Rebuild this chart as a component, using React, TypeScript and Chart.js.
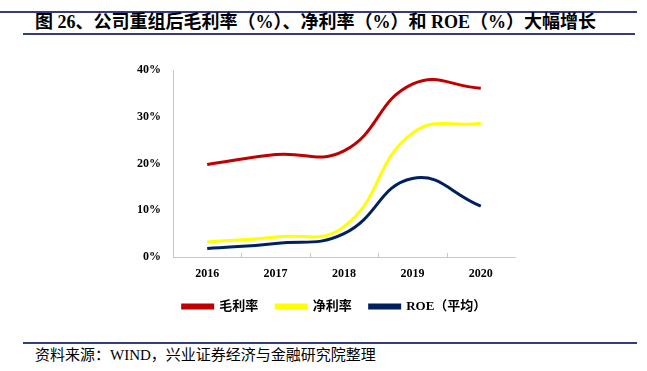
import React, { useEffect, useRef } from "react";
import { Chart, registerables } from "chart.js";

Chart.register(...registerables);

const categories = ["2016", "2017", "2018", "2019", "2020"];
const grossMargin = [19.8, 21.9, 22.7, 37.0, 36.1];
const netMargin = [3.2, 4.3, 6.5, 26.5, 28.6];
const roeAvg = [1.8, 2.9, 5.0, 16.8, 10.9];
const seriesNames = ["毛利率", "净利率", "ROE（平均）"];
const yTicks = [0, 10, 20, 30, 40];

const titleText = "图 26、公司重组后毛利率（%）、净利率（%）和 ROE（%）大幅增长";
const sourceText = "资料来源：WIND，兴业证券经济与金融研究院整理";

const FONT = "'Liberation Serif', 'Noto Sans CJK SC', serif";
const RULE = "#333d79";

const innerTicks = {
  id: "innerTicks",
  afterLayout(chart: any) {
    if (chart.legend) {
      chart.legend.left += 17;
      chart.legend.right += 17;
    }
  },
  afterDatasetsDraw(chart: any) {
    const x = chart.scales.x;
    const ctx = chart.ctx;
    const n = x.ticks.length;
    ctx.save();
    ctx.strokeStyle = "#c8c8c8";
    ctx.lineWidth = 1;
    for (let i = 0; i < n - 1; i++) {
      const px = Math.round((x.getPixelForTick(i) + x.getPixelForTick(i + 1)) / 2) + 0.5;
      ctx.beginPath();
      ctx.moveTo(px, x.top);
      ctx.lineTo(px, x.top - 4);
      ctx.stroke();
    }
    ctx.restore();
  },
};

export default function App() {
  const ref = useRef<HTMLCanvasElement | null>(null);

  useEffect(() => {
    if (!ref.current) return;
    Chart.defaults.font.family = FONT;
    const chart = new Chart(ref.current, {
      type: "line",
      data: {
        labels: categories,
        datasets: [
          { label: seriesNames[0], data: grossMargin, borderColor: "#C00000", backgroundColor: "#C00000" },
          { label: seriesNames[1], data: netMargin, borderColor: "#FFFF00", backgroundColor: "#FFFF00" },
          { label: seriesNames[2], data: roeAvg, borderColor: "#002060", backgroundColor: "#002060" },
        ].map((d) => ({ ...d, borderWidth: 3, pointRadius: 0, tension: 0.45, fill: false })),
      },
      options: {
        responsive: false,
        animation: false,
        events: [],
        layout: { padding: { left: 120, right: 132, top: 20, bottom: 0 } },
        plugins: {
          tooltip: { enabled: false },
          legend: {
            position: "bottom",
            labels: {
              boxWidth: 30,
              boxHeight: 3,
              padding: 18,
              color: "#000",
              font: { size: 13, weight: "bold", family: FONT },
            },
          },
        },
        scales: {
          x: {
            offset: true,
            grid: { display: false, drawTicks: false },
            border: { display: true, color: "#c8c8c8", width: 1 },
            ticks: { color: "#000", padding: 10, font: { size: 12, weight: "bold", family: FONT } },
            afterFit: (s: any) => { s.height = 25; },
          },
          y: {
            min: 0,
            max: 40,
            afterBuildTicks: (s: any) => { s.ticks = yTicks.map((v) => ({ value: v })); },
            grid: { display: false, drawTicks: false },
            border: { display: true, color: "#c8c8c8", width: 1 },
            ticks: {
              color: "#000",
              padding: 12,
              font: { size: 12, weight: "bold", family: FONT },
              callback: (v: any) => `${v}%`,
            },
            afterFit: (s: any) => { s.width = 53; },
          },
        },
      },
      plugins: [innerTicks],
    });
    return () => chart.destroy();
  }, []);

  return (
    <div style={{ position: "absolute", left: 0, top: 0, width: 647, height: 371, background: "#fff", overflow: "hidden" }}>
      <div style={{ position: "absolute", left: 0, top: 11, width: 637, height: 1.5, background: RULE }} />
      <div
        style={{
          position: "absolute",
          left: 35,
          top: 12,
          fontFamily: FONT,
          fontWeight: "bold",
          fontSize: 18,
          lineHeight: "20px",
          whiteSpace: "nowrap",
          color: "#000",
        }}
      >
        {titleText}
      </div>
      <div style={{ position: "absolute", left: 23, top: 33, width: 612, height: 2, background: RULE }} />
      <canvas ref={ref} width={647} height={273} style={{ position: "absolute", left: 0, top: 50, width: 647, height: 273 }} />
      <div style={{ position: "absolute", left: 23, top: 342, width: 614, height: 2, background: RULE }} />
      <div
        style={{
          position: "absolute",
          left: 35,
          top: 347,
          fontFamily: FONT,
          fontSize: 15,
          lineHeight: "16px",
          whiteSpace: "nowrap",
          color: "#000",
        }}
      >
        {sourceText}
      </div>
    </div>
  );
}
